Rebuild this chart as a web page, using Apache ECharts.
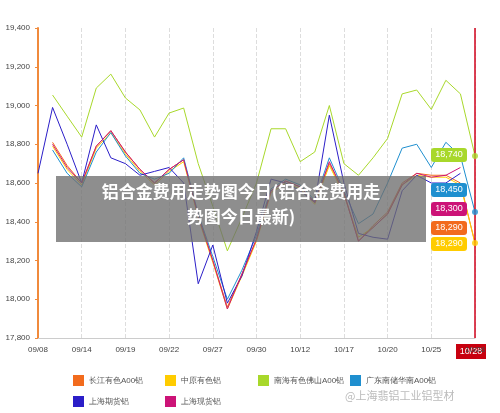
<!DOCTYPE html>
<html><head><meta charset="utf-8">
<script src="https://cdn.jsdelivr.net/npm/echarts@6/dist/echarts.min.js"></script>
<style>body{margin:0}#c{width:500px;height:413px}</style></head>
<body><div id="c"></div>
<script>
var dates = ['09/08','09/11','09/12','09/14','09/15','09/18','09/19','09/20','09/21','09/22','09/25','09/26','09/27','09/28','09/29','09/30','10/09','10/10','10/12','10/13','10/16','10/17','10/18','10/19','10/20','10/23','10/24','10/25','10/26','10/27','10/28'];
var changjiang = [null,18810,18690,18600,18790,18870,18760,18670,18600,18670,18720,18430,18200,17960,18130,18310,18560,18610,18580,18500,18700,18550,18300,18380,18450,18600,18650,18640,18640,18600,18290];
var zhongyuan = [null,18790,18670,18590,18780,18860,18750,18660,18590,18660,18710,18420,18190,17950,18120,18300,18550,18600,18570,18490,18690,18540,18320,18370,18440,18590,18640,18630,18630,18590,18290];
var nanhai = [null,19054,18945,18837,19090,19162,19039,18977,18837,18961,18987,18700,18480,18250,18420,18600,18880,18880,18710,18760,19000,18700,18640,18730,18830,19060,19080,18980,19130,19060,18740];
var guangdong = [null,18770,18650,18580,18760,18860,18740,18650,18620,18650,18730,18440,18220,18000,18150,18330,18570,18620,18590,18510,18730,18560,18390,18440,18600,18780,18800,18680,18810,18740,18450];
var shqihuo = [18650,18990,18800,18600,18900,18730,18700,18640,18660,18680,18600,18080,18280,17980,18120,18350,18620,18600,18560,18500,18950,18600,18340,18320,18310,18560,18640,18600,18600,18650,null];
var shxianhuo = [null,18800,18680,18600,18790,18870,18760,18670,18600,18670,18720,18430,18200,17950,18130,18310,18560,18610,18580,18500,18710,18550,18300,18370,18440,18590,18650,18630,18640,18680,null];
var names = ['长江有色A00铝','中原有色铝','南海有色佛山A00铝','广东南储华南A00铝','上海期货铝','上海现货铝'];
var colors = ['#f26b1d','#ffcc00','#a8d82b','#1f8fcf','#2b1ec8','#cc1377'];
var allData = [changjiang, zhongyuan, nanhai, guangdong, shqihuo, shxianhuo];

var series = allData.map(function (d, i) {
  var s = {
    name: names[i], type: 'line', data: d, showSymbol: false, symbolSize: 6,
    lineStyle: { width: 1 }, color: colors[i], z: 3
  };
  if (i === 0) {
    s.markLine = { silent: true, symbol: 'none', label: { show: false },
      lineStyle: { color: '#d0021b', type: 'solid', width: 1.5 }, data: [{ xAxis: '10/28' }] };
  }
  return s;
});
// end dots at 10/28
[2, 3, 1].forEach(function (i) {
  series.push({ type: 'scatter', data: [[30, allData[i][30]]], symbolSize: 6, color: colors[i], z: 5 });
});

var legendPos = [[68, 370], [160, 370], [253, 370], [345, 370], [68, 391], [160, 391]];
var legends = names.map(function (n, i) {
  return { data: [n], left: legendPos[i][0], top: legendPos[i][1], icon: 'rect', itemWidth: 11, itemHeight: 11,
    itemGap: 4, textStyle: { fontSize: 8, color: '#555' } };
});

var tags = [['18,740', 155, colors[2]], ['18,450', 190, colors[3]], ['18,300', 209, colors[5]], ['18,290', 228, colors[0]], ['18,290', 244, colors[1]]];
var graphics = tags.map(function (t) {
  return { type: 'group', left: 431, top: t[1] - 7, children: [
    { type: 'rect', z: 50, shape: { x: 0, y: 0, width: 36, height: 14, r: 3 }, style: { fill: t[2] } },
    { type: 'text', z: 51, x: 18, y: 7, style: { text: t[0], fill: '#fff', fontSize: 9, align: 'center', verticalAlign: 'middle' } }
  ] };
});
graphics.push({ type: 'group', left: 456, top: 344, children: [
  { type: 'rect', shape: { x: 0, y: 0, width: 30, height: 15 }, style: { fill: '#c8000f' } },
  { type: 'text', x: 15, y: 8, style: { text: '10/28', fill: '#fff', fontSize: 9, align: 'center', verticalAlign: 'middle' } }
] });
graphics.push({ type: 'group', left: 56, top: 176, children: [
  { type: 'rect', z: 100, shape: { x: 0, y: 0, width: 370, height: 66 }, style: { fill: 'rgba(110,110,110,0.78)' } },
  { type: 'text', z: 101, x: 185, y: 16, style: { text: '铝合金费用走势图今日(铝合金费用走', fill: '#fff', fontSize: 17, fontWeight: 'bold', align: 'center', verticalAlign: 'middle', fontFamily: 'Noto Sans CJK SC' } },
  { type: 'text', z: 101, x: 185, y: 41, style: { text: '势图今日最新)', fill: '#fff', fontSize: 17, fontWeight: 'bold', align: 'center', verticalAlign: 'middle', fontFamily: 'Noto Sans CJK SC' } }
] });
graphics.push({ type: 'text', left: 345, top: 390, style: { text: '@上海翡铝工业铝型材', fill: '#bbb', fontSize: 11, fontFamily: 'Noto Sans CJK SC' } });

var myChart = echarts.init(document.getElementById('c'));
myChart.setOption({
  animation: false,
  grid: { left: 38, right: 25, top: 28, bottom: 75 },
  legend: legends,
  xAxis: {
    type: 'category', data: dates, boundaryGap: false,
    axisLine: { lineStyle: { color: '#ccc' } }, axisTick: { show: false },
    axisLabel: { interval: 2, fontSize: 8, color: '#444' },
    splitLine: { show: true, interval: 2, lineStyle: { color: '#ddd', type: 'dashed' } }
  },
  yAxis: {
    type: 'value', min: 17800, max: 19400, interval: 200,
    axisLine: { show: true, lineStyle: { color: '#f08a3c', width: 2 } },
    axisTick: { show: true, length: 3 },
    axisLabel: { fontSize: 8, color: '#444', formatter: function (v) { return v.toLocaleString('en-US'); } },
    splitLine: { show: false }
  },
  series: series,
  graphic: graphics
});
</script></body></html>
